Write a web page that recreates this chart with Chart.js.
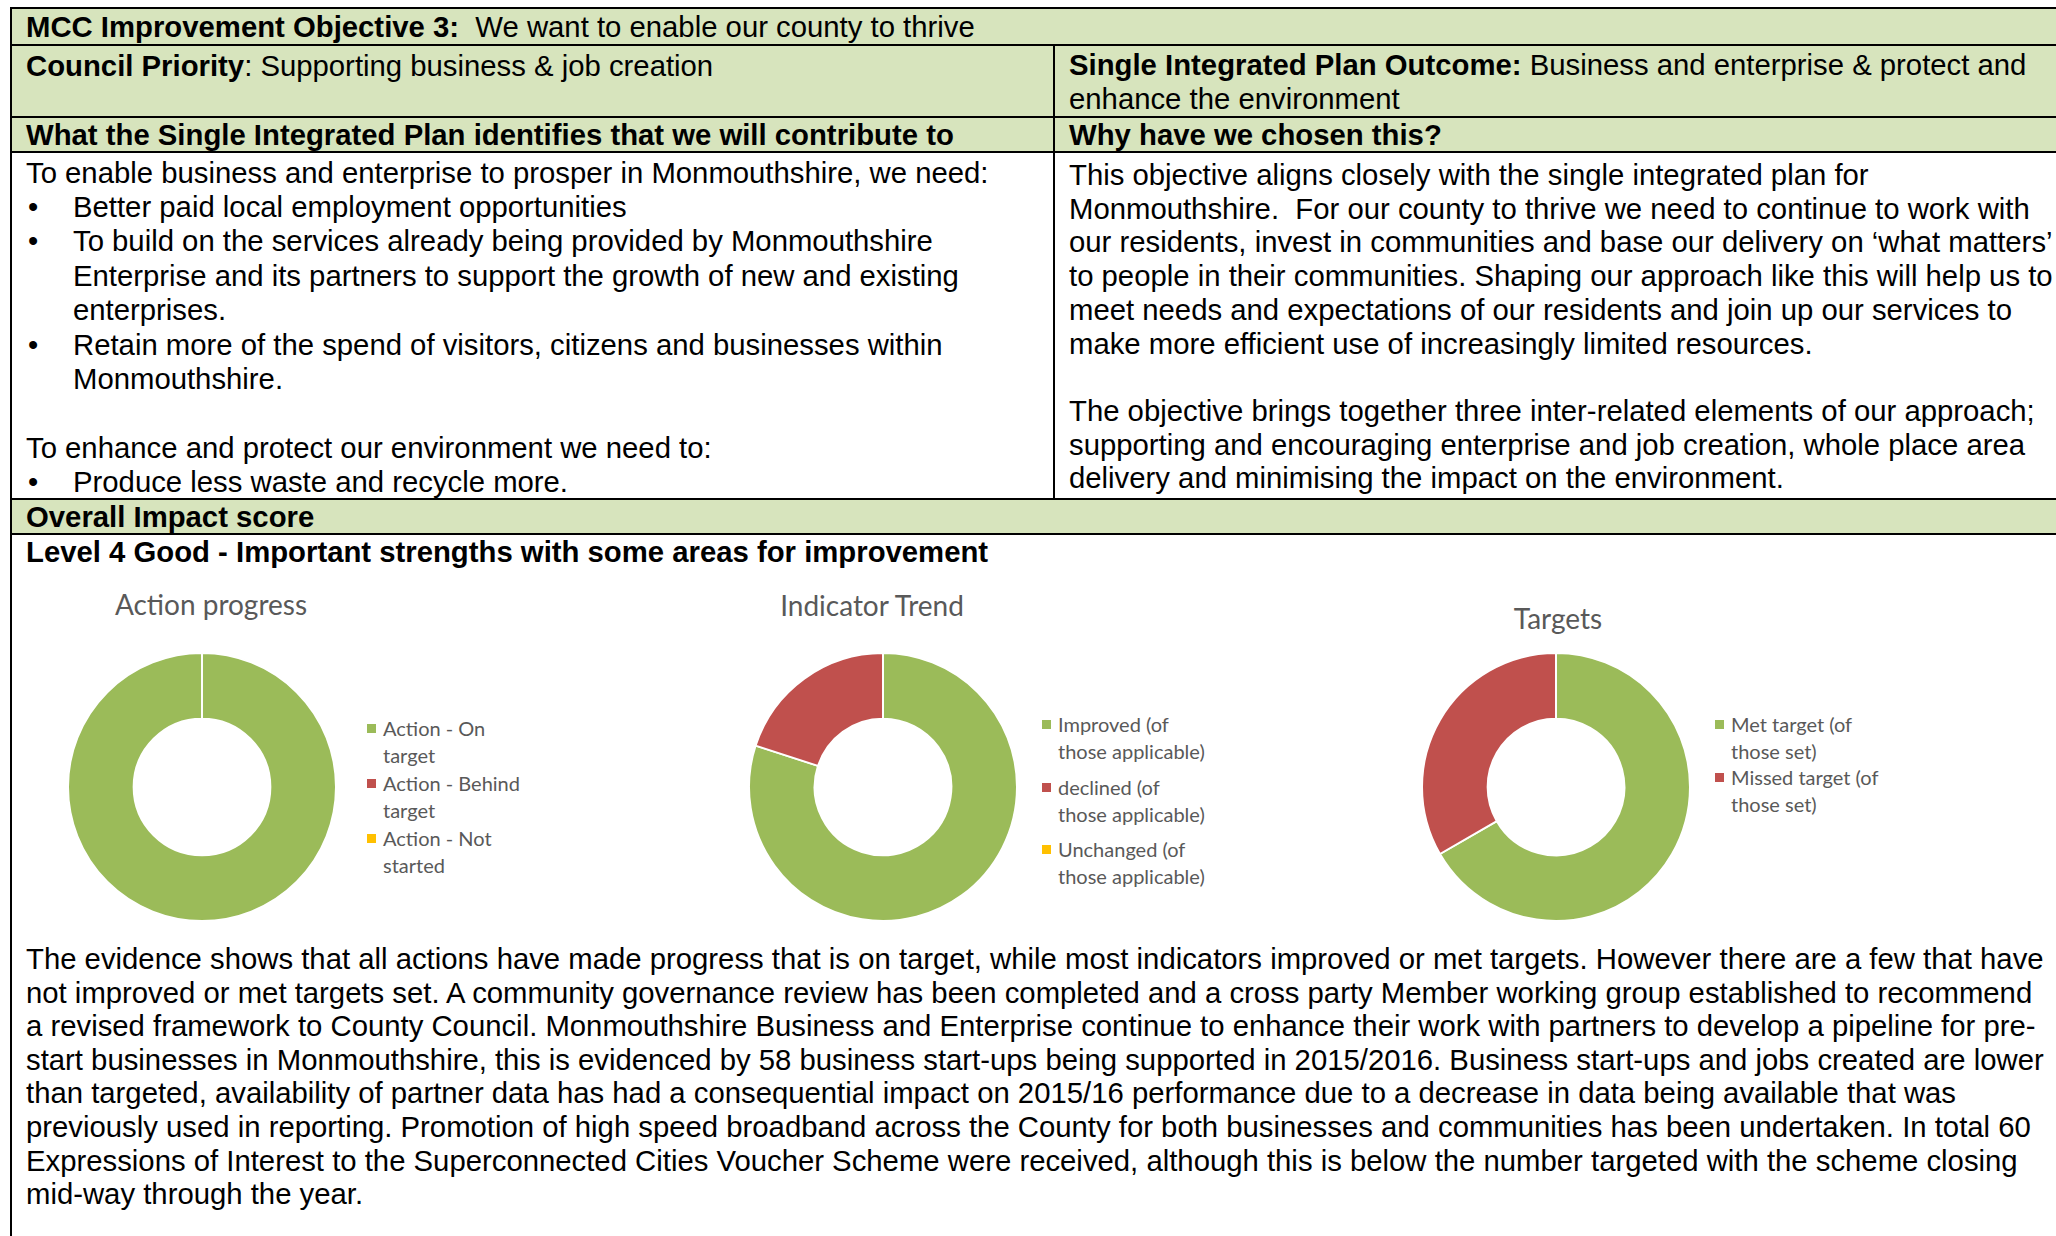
<!DOCTYPE html>
<html>
<head>
  <meta charset="UTF-8" />
  <title>MCC Improvement Objective 3</title>
  <script src="https://cdn.jsdelivr.net/npm/chart.js"></script>
  <style>
    html, body {
      margin: 0;
      padding: 0;
      background: #fff;
      width: 2056px;
      height: 1236px;
      overflow: hidden;
    }

    .page {
      position: relative;
      width: 2056px;
      height: 1236px;
      font-family: "Liberation Sans", Arial, sans-serif;
      font-size: 29.3px;
      color: #000;
    }

    .fill { position: absolute; background: #d7e4bd; }
    .rule { position: absolute; background: #000; }

    .t {
      position: absolute;
      white-space: pre;
      line-height: 33px;
    }
    .t.lines { white-space: nowrap; }

    .bl { position: relative; padding-left: 47px; }
    .bl .dot { position: absolute; left: 2px; top: 0; }
    .ind { padding-left: 47px; }

    .donut { position: absolute; width: 270px; height: 270px; }

    .ctitle {
      position: absolute;
      width: 400px;
      text-align: center;
      font-family: Lato, "Open Sans", sans-serif;
      font-size: 28px;
      line-height: 34px;
      color: #595959;
      white-space: pre;
    }

    .legend {
      position: absolute;
      font-family: Lato, "Open Sans", sans-serif;
      font-size: 20px;
      color: #595959;
      white-space: pre;
    }
    .legend .item { position: relative; }
    .legend .box { position: absolute; width: 9px; height: 9px; }
  </style>
</head>
<body>
<div class="page">

  <!-- shaded header rows -->
  <div class="fill" style="left:12px; top:9px;   width:2044px; height:35px;"></div>
  <div class="fill" style="left:12px; top:46px;  width:2044px; height:70px;"></div>
  <div class="fill" style="left:12px; top:118px; width:2044px; height:33px;"></div>
  <div class="fill" style="left:12px; top:500px; width:2044px; height:33px;"></div>

  <!-- table rules -->
  <div class="rule" style="left:10px; top:7px;   width:2046px; height:2px;"></div>
  <div class="rule" style="left:10px; top:44px;  width:2046px; height:2px;"></div>
  <div class="rule" style="left:10px; top:116px; width:2046px; height:2px;"></div>
  <div class="rule" style="left:10px; top:151px; width:2046px; height:2px;"></div>
  <div class="rule" style="left:10px; top:498px; width:2046px; height:2px;"></div>
  <div class="rule" style="left:10px; top:533px; width:2046px; height:2px;"></div>
  <div class="rule" style="left:10px; top:7px;   width:2px; height:1229px;"></div>
  <div class="rule" style="left:1053px; top:44px; width:2px; height:456px;"></div>

  <!-- table text -->
  <div class="t" style="left:26px; top:10px;"><b>MCC Improvement Objective 3:</b>  We want to enable our county to thrive</div>
  <div class="t" style="left:26px; top:49px;"><b>Council Priority</b>: Supporting business &amp; job creation</div>
  <div class="t" style="left:1069px; top:48px; line-height:34px;"><b>Single Integrated Plan Outcome:</b> Business and enterprise &amp; protect and
enhance the environment</div>
  <div class="t" style="left:26px; top:118px;"><b>What the Single Integrated Plan identifies that we will contribute to</b></div>
  <div class="t" style="left:1069px; top:118px;"><b>Why have we chosen this?</b></div>

  <div class="t lines" style="left:26px; top:155.5px; line-height:34.4px;">
    <div>To enable business and enterprise to prosper in Monmouthshire, we need:</div>
    <div class="bl"><span class="dot">•</span>Better paid local employment opportunities</div>
    <div class="bl"><span class="dot">•</span>To build on the services already being provided by Monmouthshire</div>
    <div class="ind">Enterprise and its partners to support the growth of new and existing</div>
    <div class="ind">enterprises.</div>
    <div class="bl"><span class="dot">•</span>Retain more of the spend of visitors, citizens and businesses within</div>
    <div class="ind">Monmouthshire.</div>
    <div>&nbsp;</div>
    <div>To enhance and protect our environment we need to:</div>
    <div class="bl"><span class="dot">•</span>Produce less waste and recycle more.</div>
  </div>

  <div class="t" style="left:1069px; top:158px; line-height:33.7px;">This objective aligns closely with the single integrated plan for
Monmouthshire.  For our county to thrive we need to continue to work with
our residents, invest in communities and base our delivery on ‘what matters’
to people in their communities. Shaping our approach like this will help us to
meet needs and expectations of our residents and join up our services to
make more efficient use of increasingly limited resources.

The objective brings together three inter-related elements of our approach;
supporting and encouraging enterprise and job creation, whole place area
delivery and minimising the impact on the environment.</div>

  <div class="t" style="left:26px; top:500px;"><b>Overall Impact score</b></div>
  <div class="t" style="left:26px; top:535px;"><b>Level 4 Good - Important strengths with some areas for improvement</b></div>

  <!-- charts -->
  <div class="ctitle" style="left:11px;  top:587px;">Action progress</div>
  <div class="ctitle" style="left:672px; top:588px;">Indicator Trend</div>
  <div class="ctitle" style="left:1358px; top:601px;">Targets</div>

  <div class="donut" style="left:67px;   top:652px;"><canvas id="actionChart" width="270" height="270"></canvas></div>
  <div class="donut" style="left:748px;  top:652px;"><canvas id="trendChart" width="270" height="270"></canvas></div>
  <div class="donut" style="left:1421px; top:652px;"><canvas id="targetChart" width="270" height="270"></canvas></div>

  <div class="legend" id="actionLegend" style="left:383px;  top:715px;"></div>
  <div class="legend" id="trendLegend"  style="left:1058px; top:711px;"></div>
  <div class="legend" id="targetLegend" style="left:1731px; top:711px;"></div>

  <!-- evidence paragraph -->
  <div class="t" style="left:26px; top:942px; line-height:33.6px;">The evidence shows that all actions have made progress that is on target, while most indicators improved or met targets. However there are a few that have
not improved or met targets set. A community governance review has been completed and a cross party Member working group established to recommend
a revised framework to County Council. Monmouthshire Business and Enterprise continue to enhance their work with partners to develop a pipeline for pre-
start businesses in Monmouthshire, this is evidenced by 58 business start-ups being supported in 2015/2016. Business start-ups and jobs created are lower
than targeted, availability of partner data has had a consequential impact on 2015/16 performance due to a decrease in data being available that was
previously used in reporting. Promotion of high speed broadband across the County for both businesses and communities has been undertaken. In total 60
Expressions of Interest to the Superconnected Cities Voucher Scheme were received, although this is below the number targeted with the scheme closing
mid-way through the year.</div>

</div>

<script>
  // Action progress
  const actionLabels = [['Action - On', 'target'], ['Action - Behind', 'target'], ['Action - Not', 'started']];
  const actionValues = [10, 0, 0];
  const actionColors = ['#9bbb59', '#c0504d', '#ffc000'];

  // Indicator Trend
  const trendLabels = [['Improved (of', 'those applicable)'], ['declined (of', 'those applicable)'], ['Unchanged (of', 'those applicable)']];
  const trendValues = [8, 2, 0];
  const trendColors = ['#9bbb59', '#c0504d', '#ffc000'];

  // Targets
  const targetLabels = [['Met target (of', 'those set)'], ['Missed target (of', 'those set)']];
  const targetValues = [2, 1];
  const targetColors = ['#9bbb59', '#c0504d'];

  function makeDonut(id, labels, values, colors) {
    return new Chart(document.getElementById(id), {
      type: 'doughnut',
      data: {
        labels: labels.map(l => l.join(' ')),
        datasets: [{
          data: values,
          backgroundColor: colors,
          borderColor: '#ffffff',
          borderWidth: 2
        }]
      },
      options: {
        responsive: false,
        animation: false,
        cutout: '51%',
        layout: { padding: 0 },
        plugins: {
          legend: { display: false },
          tooltip: { enabled: false }
        }
      }
    });
  }

  // html legend next to each donut, lines as in the original
  function makeLegend(id, labels, colors, lineH, itemGap) {
    const el = document.getElementById(id);
    el.style.lineHeight = lineH + 'px';
    labels.forEach((lines, i) => {
      const item = document.createElement('div');
      item.className = 'item';
      if (i > 0) item.style.marginTop = itemGap + 'px';
      const box = document.createElement('span');
      box.className = 'box';
      box.style.background = colors[i];
      box.style.left = '-16px';
      box.style.top = (lineH / 2 - 4.5) + 'px';
      item.appendChild(box);
      item.appendChild(document.createTextNode(lines.join('\n')));
      el.appendChild(item);
    });
  }

  makeDonut('actionChart', actionLabels, actionValues, actionColors);
  makeDonut('trendChart', trendLabels, trendValues, trendColors);
  makeDonut('targetChart', targetLabels, targetValues, targetColors);

  makeLegend('actionLegend', actionLabels, actionColors, 27.4, 0);
  makeLegend('trendLegend', trendLabels, trendColors, 27, 8.5);
  makeLegend('targetLegend', targetLabels, targetColors, 27, -0.7);
</script>
</body>
</html>
